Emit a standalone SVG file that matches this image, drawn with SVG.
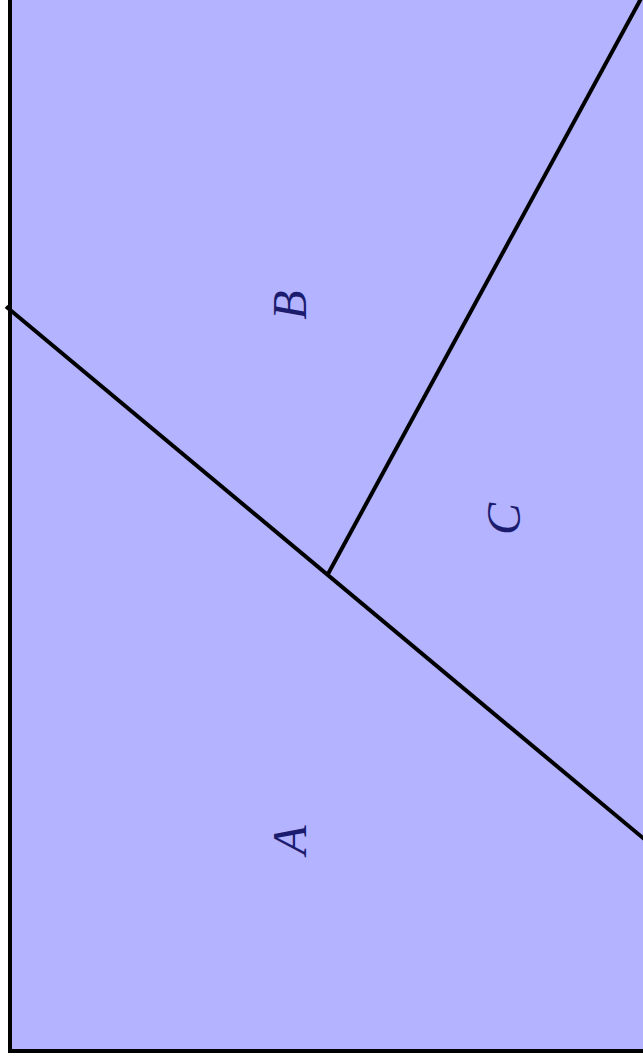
<svg xmlns="http://www.w3.org/2000/svg" width="643" height="1063" viewBox="0 0 643 1063">
<style>
.region{fill:#b3b3ff;stroke:#000;stroke-width:4}
.cut{stroke:#000;stroke-width:4;fill:none}
.lbl{font-family:"Liberation Serif","DejaVu Serif",serif;font-style:italic;font-size:48px;fill:#1c1c6e;text-anchor:middle}
</style>
<rect width="643" height="1063" fill="#fff"/>
<g id="board">
<rect class="region" x="10" y="-10" width="635.5" height="1061"/>
</g>
<g id="connectors">
<line class="cut" x1="6" y1="306.5" x2="646" y2="840.5"/>
<line class="cut" x1="328" y1="574" x2="643" y2="-5"/>
</g>
<g id="node-B"><text class="lbl" transform="translate(306,305) rotate(-90)">B</text></g>
<g id="node-C"><text class="lbl" transform="translate(520,519) rotate(-90)">C</text></g>
<g id="node-A"><text class="lbl" transform="translate(306,840) rotate(-90)">A</text></g>
</svg>
